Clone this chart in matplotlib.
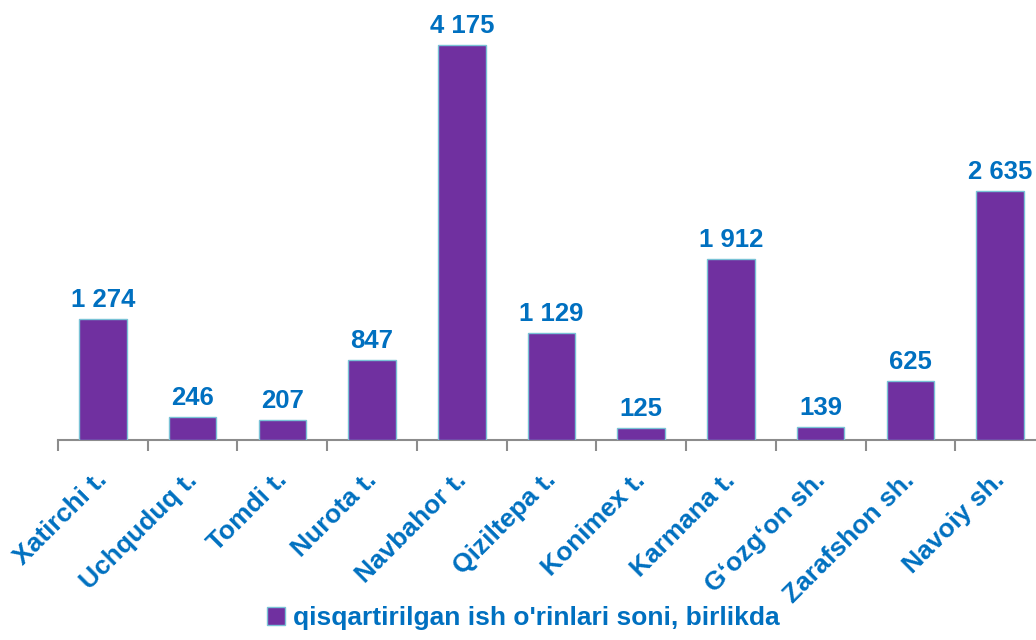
import matplotlib.pyplot as plt
import matplotlib.transforms as mtransforms
import matplotlib.patches as mpatches

# data
districts = ["Xatirchi t.", "Uchquduq t.", "Tomdi t.", "Nurota t.", "Navbahor t.",
             "Qiziltepa t.", "Konimex t.", "Karmana t.", "G\u2018ozg\u2018on sh.",
             "Zarafshon sh.", "Navoiy sh."]
jobs_cut = [1274, 246, 207, 847, 4175, 1129, 125, 1912, 139, 625, 2635]
series_name = "qisqartirilgan ish o'rinlari soni, birlikda"

bar_color = "#7030A0"
text_color = "#0070C0"
plt.rcParams["font.family"] = ["Liberation Sans", "DejaVu Sans"]

fig = plt.figure(figsize=(10.36, 6.4), dpi=100)
# axes runs a bit past the right edge, like the original
ax = fig.add_axes([58 / 1036, 200 / 640, 987 / 1036, 426 / 640])

x = range(len(districts))
bars = ax.bar(x, jobs_cut, width=0.53, color=bar_color, edgecolor="#79C2D6",
              linewidth=1.0, zorder=3)

for xi, v in zip(x, jobs_cut):
    ax.annotate(f"{v:,}".replace(",", " "), (xi, v), xytext=(0, 5),
                textcoords="offset points", ha="center", va="bottom",
                fontsize=18.5, fontweight="bold", color=text_color)

ax.set_xlim(-0.5, len(districts) - 0.5)
ax.set_ylim(0, 4500)

for s in ["left", "right", "top"]:
    ax.spines[s].set_visible(False)
ax.spines["bottom"].set_color("#8C8C8C")
ax.spines["bottom"].set_linewidth(1.5)
ax.set_yticks([])

# tick marks between categories, labels at centres
ax.set_xticks([i - 0.5 for i in range(len(districts) + 1)], minor=True)
ax.tick_params(axis="x", which="minor", length=8, width=1.5, color="#8C8C8C")
ax.set_xticks(list(x))
ax.set_xticklabels(districts, rotation=45, rotation_mode="anchor",
                   ha="right", va="top", fontsize=19, fontweight="bold",
                   color=text_color)
ax.tick_params(axis="x", which="major", length=0, pad=20)
offset = mtransforms.ScaledTranslation(-8 / 100, 0, fig.dpi_scale_trans)
for lbl in ax.get_xticklabels():
    lbl.set_transform(lbl.get_transform() + offset)

handle = mpatches.Patch(facecolor=bar_color, edgecolor="#79C2D6", label=series_name)
leg = fig.legend(handles=[handle], loc="lower center", bbox_to_anchor=(0.505, -0.022),
                 frameon=False, handlelength=0.7, handleheight=0.7,
                 handletextpad=0.3, prop={"size": 19, "weight": "bold"})
for t in leg.get_texts():
    t.set_color(text_color)

fig.savefig("out.png", dpi=100)
